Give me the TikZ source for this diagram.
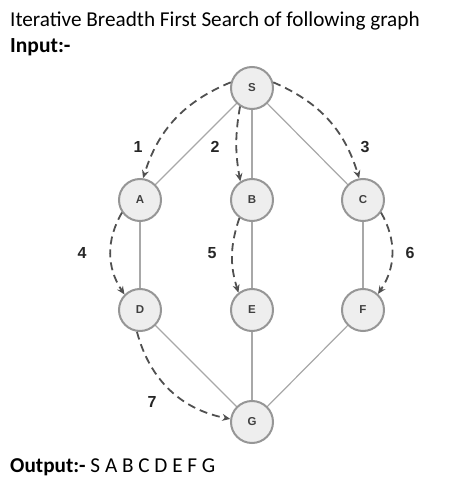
\documentclass[tikz,border=0pt]{standalone}
\usepackage{fontspec}
\setmainfont{Carlito}
\newfontfamily\hv{Liberation Sans}
\usetikzlibrary{arrows.meta}
\definecolor{edgegray}{RGB}{168,168,168}
\definecolor{nodefill}{RGB}{238,238,238}
\definecolor{nodeline}{RGB}{150,150,150}
\definecolor{dashgray}{RGB}{80,80,80}
\tikzset{
  vertex/.style={circle,draw=nodeline,line width=2pt,fill=nodefill,minimum size=42pt,inner sep=0pt,font=\hv\bfseries\fontsize{11.5}{12}\selectfont,text=black!75},
  edge/.style={draw=edgegray,line width=1.2pt},
  trav/.style={draw=dashgray,line width=1.8pt,dash pattern=on 8pt off 5pt,-{Stealth[length=8pt,width=7pt]}},
  num/.style={font=\hv\bfseries\fontsize{16}{18}\selectfont,text=black!85},
  txt/.style={anchor=base west,font=\fontsize{21.2}{24}\selectfont,inner sep=0pt},
}
\begin{document}
\begin{tikzpicture}[x=1pt,y=1pt]
\useasboundingbox (0,0) rectangle (465,499);
\node[txt] (title) at (10,472) {Iterative Breadth First Search of following graph};
\node[txt,font=\bfseries\fontsize{21.5}{24}\selectfont] (input) at (10,446) {Input:-};
\node[txt] (output) at (10,27) {\textbf{Output:-} S A B C D E F G};

\draw[edge] (252,411) -- (140,299);
\draw[edge] (252,411) -- (252,299);
\draw[edge] (252,411) -- (363,299);
\draw[edge] (140,299) -- (140,189);
\draw[edge] (252,299) -- (252,189);
\draw[edge] (363,299) -- (363,189);
\draw[edge] (140,189) -- (252,77);
\draw[edge] (252,189) -- (252,77);
\draw[edge] (363,189) -- (252,77);

\node[vertex] (S) at (252,411) {S};
\node[vertex] (A) at (140,299) {A};
\node[vertex] (B) at (252,299) {B};
\node[vertex] (C) at (363,299) {C};
\node[vertex] (D) at (140,189) {D};
\node[vertex] (E) at (252,189) {E};
\node[vertex] (F) at (363,189) {F};
\node[vertex] (G) at (252,77) {G};

\draw[trav] (S.165) to[bend right=25] (A.82);
\draw[trav] (S.237) to[bend right=10] (B.122);
\draw[trav] (S.15) to[bend left=25] (C.100);
\draw[trav] (A.215) to[bend right=32] (D.135);
\draw[trav] (B.235) to[bend right=18] (E.128);
\draw[trav] (C.-35) to[bend left=32] (F.47);
\draw[trav] (D.262) to[bend right=32] (G.172);

\node[num] (n1) at (138,352) {1};
\node[num] (n2) at (215,352) {2};
\node[num] (n3) at (365,352) {3};
\node[num] (n4) at (82,246) {4};
\node[num] (n5) at (212,246) {5};
\node[num] (n6) at (410,246) {6};
\node[num] (n7) at (152,97) {7};
\end{tikzpicture}
\end{document}
